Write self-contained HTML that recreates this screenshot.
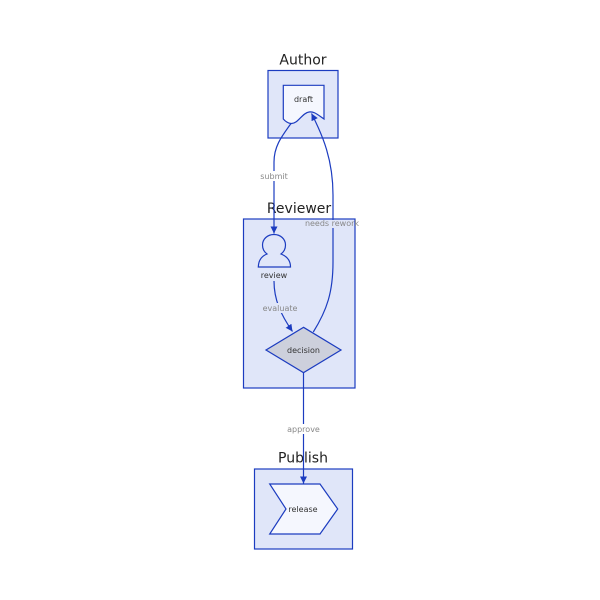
<!DOCTYPE html>
<html><head><meta charset="utf-8"><style>
html,body{margin:0;padding:0;background:#fff;}
svg{display:block;}
text{font-family:"DejaVu Sans","Liberation Sans",sans-serif;}
</style></head><body>
<svg width="600" height="600" viewBox="0 0 600 600" xmlns="http://www.w3.org/2000/svg">
<defs>
<marker id="ah" viewBox="0 0 10 10" refX="10" refY="5" markerWidth="7" markerHeight="7" markerUnits="userSpaceOnUse" orient="auto">
<path d="M0,0 L10,5 L0,10 z" fill="#1c3cc0"/>
</marker>
</defs>
<rect x="0" y="0" width="600" height="600" fill="#fff"/>
<!-- clusters -->
<rect x="268" y="70.5" width="70" height="67.5" fill="#e0e6f9" stroke="#1c3cc0" stroke-width="1.2"/>
<rect x="243.5" y="219" width="111.5" height="169" fill="#e0e6f9" stroke="#1c3cc0" stroke-width="1.2"/>
<rect x="254.5" y="469" width="98" height="80" fill="#e0e6f9" stroke="#1c3cc0" stroke-width="1.2"/>
<text x="303" y="64.5" font-size="14" text-anchor="middle" fill="#222">Author</text>
<text x="299" y="213" font-size="14" text-anchor="middle" fill="#222">Reviewer</text>
<text x="303" y="462.5" font-size="14" text-anchor="middle" fill="#222">Publish</text>
<!-- draft doc -->
<path d="M283.3,85.3 L324,85.3 L324,119 C318,115 314,111 309,112 C302,113 298,124 291,123.5 C287,123 285,121 283.3,119 Z" fill="#f5f7fe" stroke="#1c3cc0" stroke-width="1.2"/>
<text x="303.5" y="102" font-size="8" text-anchor="middle" fill="#333">draft</text>
<!-- person -->
<path d="M258.3,267 C258.5,260 262,256 267,254 C263,251 262.5,247 262.5,245 C262.5,239 267.5,234.5 274,234.5 C280.5,234.5 285.5,239 285.5,245 C285.5,247 285,251 281,254 C286,256 290.5,260 290.5,267 Z" fill="#e0e6f9" stroke="#1c3cc0" stroke-width="1.2"/>
<text x="274" y="278" font-size="8" text-anchor="middle" fill="#333">review</text>
<!-- decision -->
<polygon points="303.5,327.3 341,350 303.5,372.7 266,350" fill="#cdd0dc" stroke="#1c3cc0" stroke-width="1.2"/>
<text x="303.5" y="353" font-size="8" text-anchor="middle" fill="#333">decision</text>
<!-- release -->
<polygon points="269.7,484 320,484 337.7,509 320,534 269.7,534 286,509" fill="#f5f7fe" stroke="#1c3cc0" stroke-width="1.2"/>
<text x="303" y="512" font-size="8" text-anchor="middle" fill="#333">release</text>
<!-- edges -->
<path d="M291,123.5 C282,136 274,146 274,162 L274,233.5" fill="none" stroke="#1c3cc0" stroke-width="1.2" marker-end="url(#ah)"/>
<path d="M313.3,332 C327,310 333,292 333,262 L333,195 C333,160 323,136 311.5,113.5" fill="none" stroke="#1c3cc0" stroke-width="1.2" marker-end="url(#ah)"/>
<path d="M274,281 C274,300 281,315 292.5,331.5" fill="none" stroke="#1c3cc0" stroke-width="1.2" marker-end="url(#ah)"/>
<path d="M303.5,372.7 L303.5,483.5" fill="none" stroke="#1c3cc0" stroke-width="1.2" marker-end="url(#ah)"/>
<!-- edge labels -->
<rect x="260" y="171" width="28" height="10" fill="#fff"/>
<text x="274" y="179" font-size="8" text-anchor="middle" fill="#888">submit</text>
<rect x="328" y="220" width="10" height="8" fill="#e0e6f9"/>
<text x="332" y="226" font-size="8" text-anchor="middle" fill="#888">needs rework</text>
<rect x="263" y="303" width="34" height="10" fill="#e0e6f9"/>
<text x="280" y="311" font-size="8" text-anchor="middle" fill="#888">evaluate</text>
<rect x="286" y="424" width="35" height="10" fill="#fff"/>
<text x="303.5" y="432" font-size="8" text-anchor="middle" fill="#888">approve</text>
</svg>
</body></html>
